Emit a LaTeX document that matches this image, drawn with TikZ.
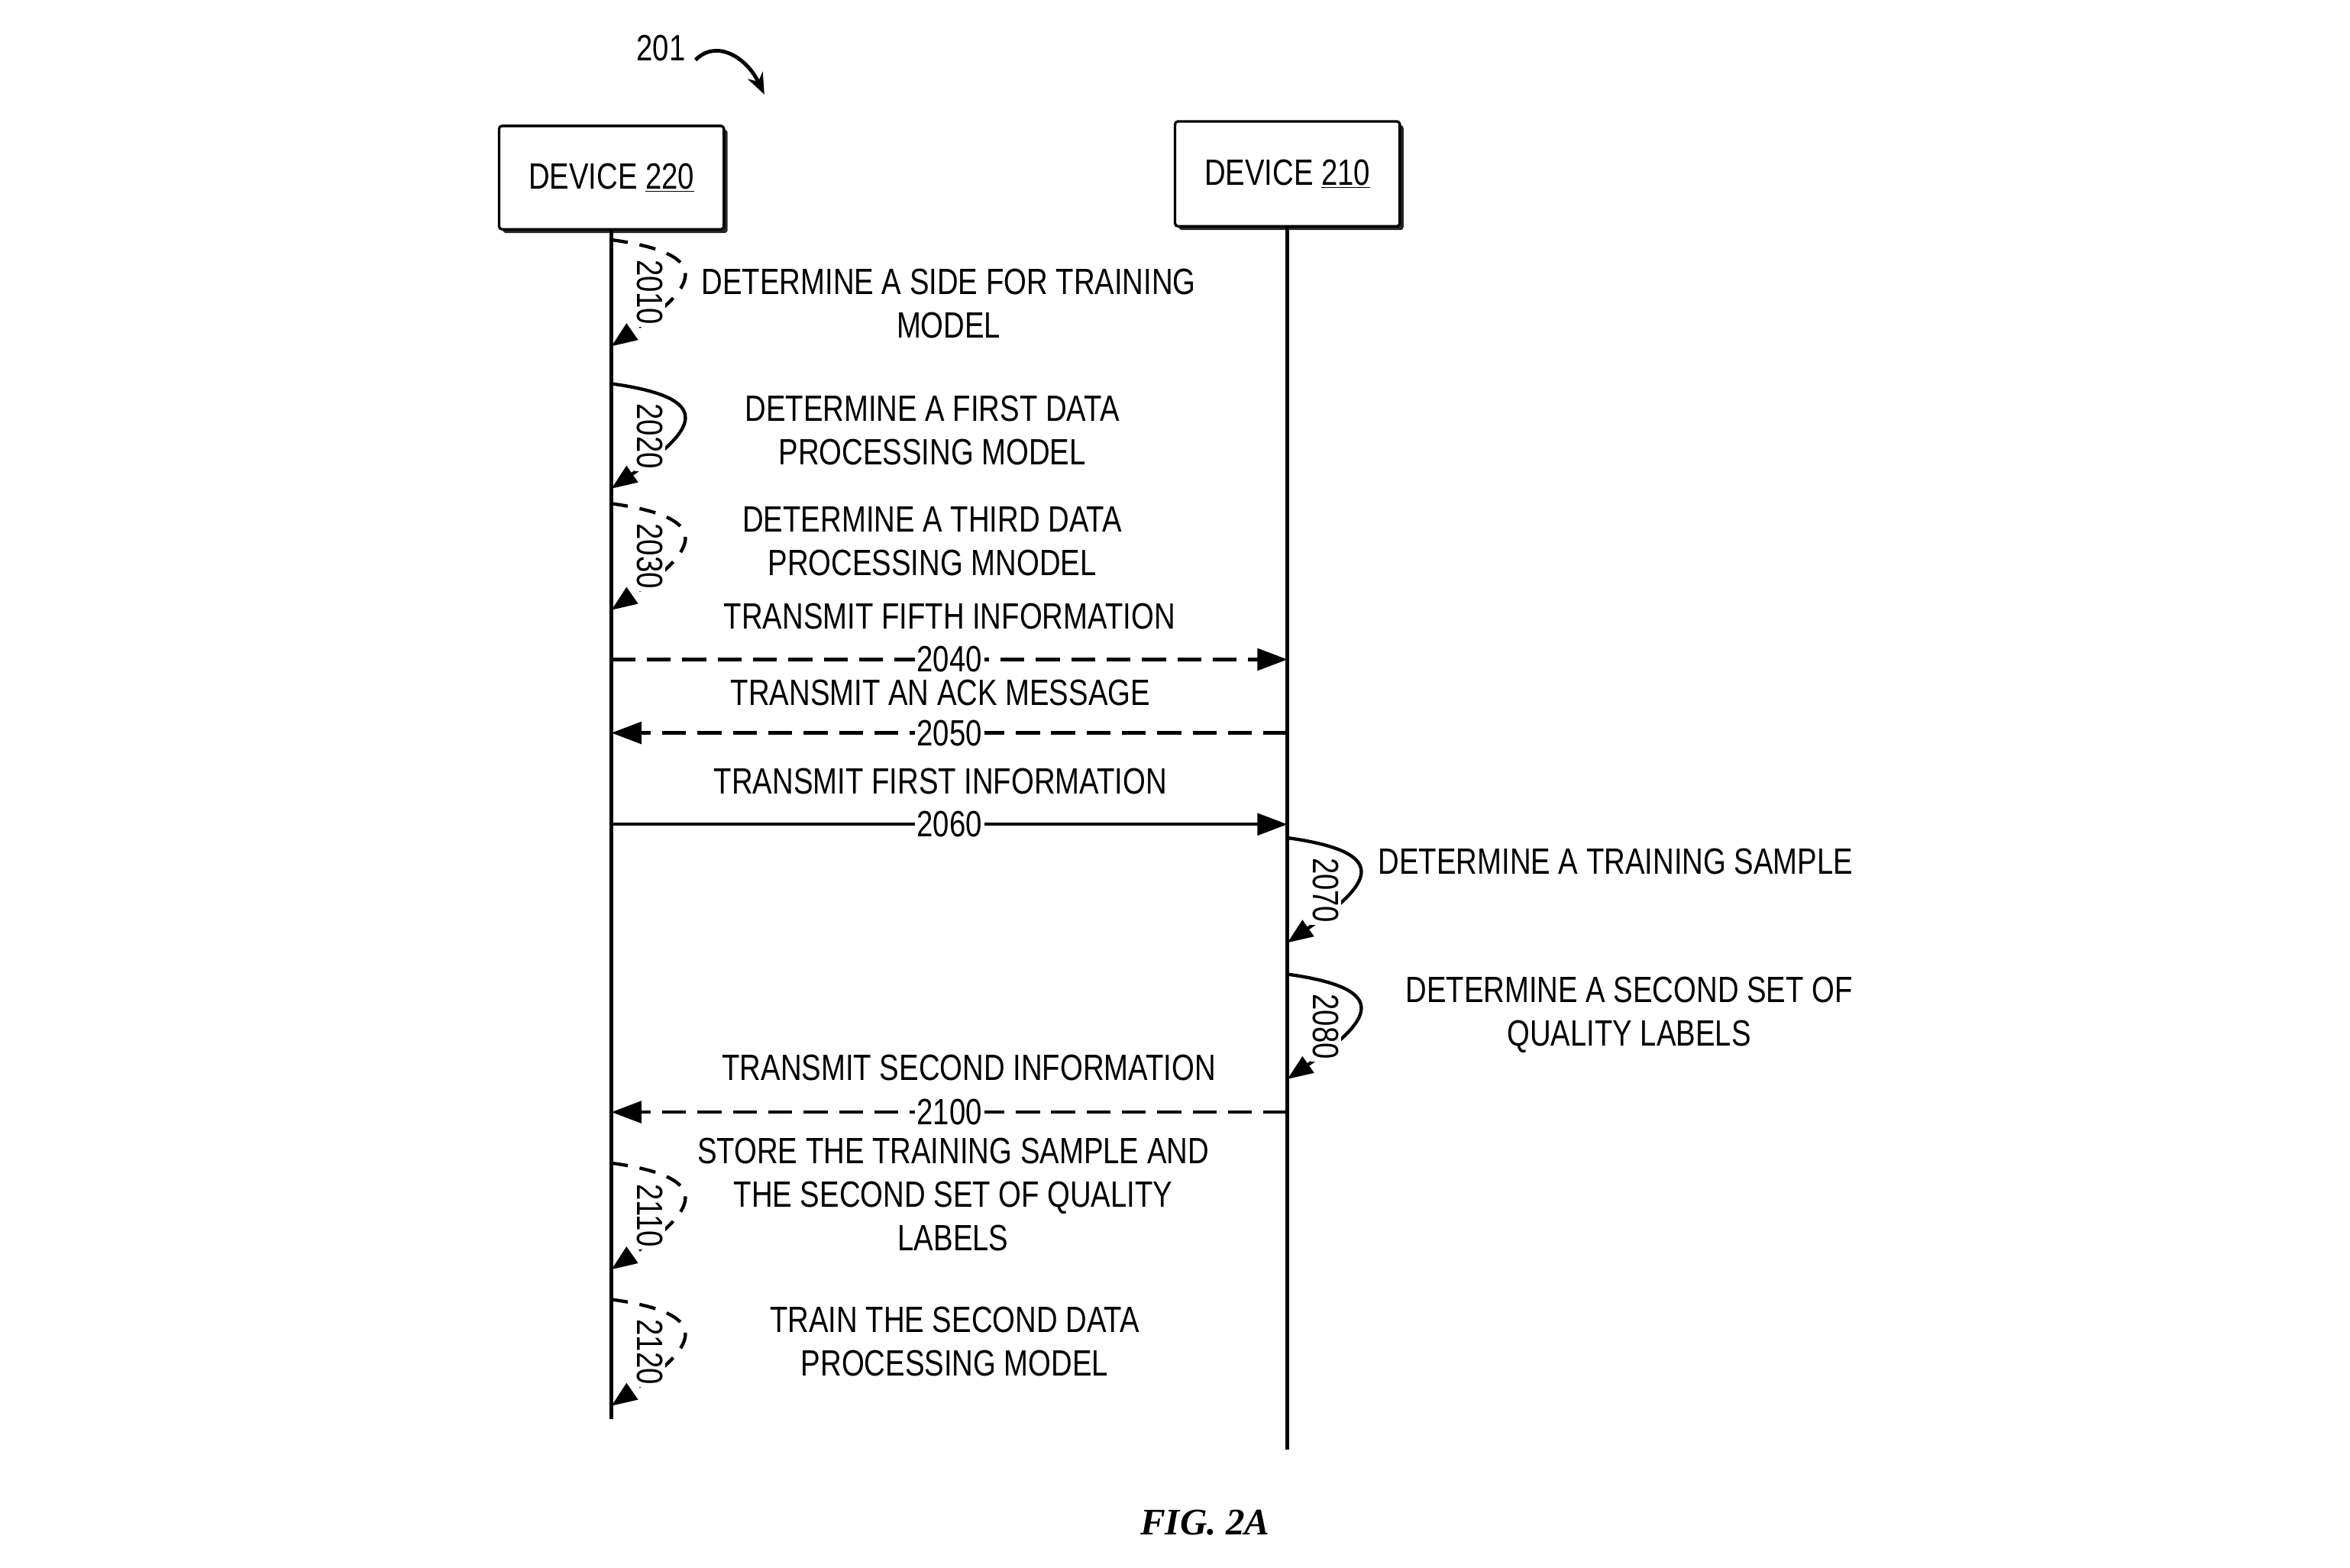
\documentclass[tikz,border=0pt]{standalone}
\usepackage{fontspec}
\setmainfont{Liberation Sans}[FakeStretch=0.8]
\newfontfamily\figfont{Liberation Serif}
\usetikzlibrary{arrows.meta,shadows}

\begin{document}
\begin{tikzpicture}
		[x=1pt,y=-1pt,
		every node/.style={font=\fontsize{24.4}{29}\selectfont,inner sep=0pt},
		device/.style={draw,line width=1.7pt,rounded corners=2pt,fill=white,minimum width=150pt,minimum height=69pt,
			drop shadow={shadow xshift=2.5pt,shadow yshift=-2.5pt,fill=black!85,opacity=1}},
		life/.style={line width=2.5pt},
		msg/.style={line width=2.2pt,-{Triangle[length=20pt,width=14.5pt]}},
		dmsg/.style={msg,dash pattern=on 16pt off 7.6pt},
		selfloop/.style={line width=2.2pt,-{Triangle[length=17pt,width=13pt]}},
		num/.style={fill=white,inner sep=1.5pt},
		steptext/.style={align=center}]
		\useasboundingbox (0,0) rectangle (1568,1045.7);
		\node (n201) at (441,32) {201};
		\coordinate (r201a) at (464,40);
		\coordinate (r201b) at (510,63);
		\draw[line width=2.5pt,-{Stealth[length=14pt,width=11pt]}] (r201a) .. controls (478,26) and (498,38) .. (r201b);
		\node (d220) [device] at (408,118.5) {DEVICE \underline{220}};
		\node (d210) [device,minimum height=70pt] at (859,116) {DEVICE \underline{210}};
		\coordinate (end220) at (408,947);
		\coordinate (end210) at (859,967);
		\draw[life] (d220.south) -- (end220);
		\draw[life] (d210.south) -- (end210);
		\foreach \n/\x/\t in {2010/408/160,2030/408/336,2110/408/776,2120/408/867} {
			\coordinate (s\n) at (\x,\t);
			\coordinate (e\n) at (\x,\t+71);
			\draw[selfloop,dash pattern=on 11pt off 8pt] (s\n) .. controls +(72,10) and +(55,-38.5) .. (e\n);
			\node (l\n) [num,rotate=-90] at ([shift={(25.5,35)}]s\n) {\n};
		}
		\foreach \n/\x/\t in {2020/408/256,2070/859/559,2080/859/650} {
			\coordinate (s\n) at (\x,\t);
			\coordinate (e\n) at (\x,\t+70);
			\draw[selfloop] (s\n) .. controls +(72,10) and +(55,-38.5) .. (e\n);
			\node (l\n) [num,rotate=-90] at ([shift={(25.5,35)}]s\n) {\n};
		}
		\foreach \n/\y in {2040/440,2050/489,2060/550,2100/742} {
			\coordinate (a\n) at (408,\y);
			\coordinate (b\n) at (859,\y);
		}
		\draw[dmsg] (a2040) -- node[num] {2040} node[above=19pt] {TRANSMIT FIFTH INFORMATION} (b2040);
		\draw[dmsg] (b2050) -- node[num] {2050} node[above=17pt,xshift=-6pt] {TRANSMIT AN ACK MESSAGE} (a2050);
		\draw[msg] (a2060) -- node[num] {2060} node[above=19pt,xshift=-6pt] {TRANSMIT FIRST INFORMATION} (b2060);
		\draw[dmsg] (b2100) -- node[num] {2100} node[above=20pt,xshift=13pt] {TRANSMIT SECOND INFORMATION} (a2100);
		\node (t2010) [steptext] at (633,202.5) {DETERMINE A SIDE FOR TRAINING\\MODEL};
		\node (t2020) [steptext] at (622,287) {DETERMINE A FIRST DATA\\PROCESSING MODEL};
		\node (t2030) [steptext] at (622,361) {DETERMINE A THIRD DATA\\PROCESSING MNODEL};
		\node (t2070) [steptext] at (1078,575) {DETERMINE A TRAINING SAMPLE};
		\node (t2080) [steptext] at (1087,677) {DETERMINE A SECOND SET OF\\QUALITY LABELS};
		\node (t2110) [steptext] at (636,797) {STORE THE TRAINING SAMPLE AND\\THE SECOND SET OF QUALITY\\LABELS};
		\node (t2120) [steptext] at (637,895) {TRAIN THE SECOND DATA\\PROCESSING MODEL};
		\node (fig) [font=\figfont\fontsize{25}{30}\selectfont\bfseries\itshape] at (804,1016) {FIG. 2A};
\end{tikzpicture}
\end{document}
